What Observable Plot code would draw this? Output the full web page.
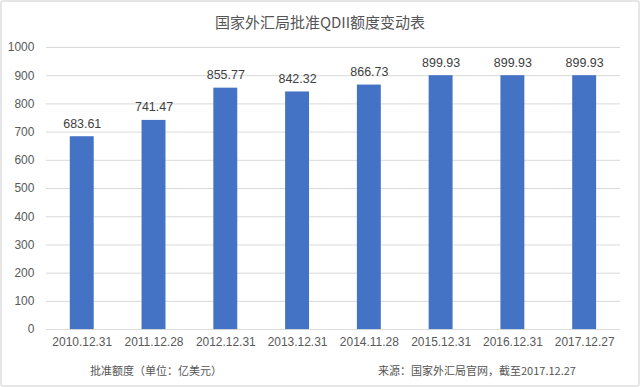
<!DOCTYPE html>
<html><head><meta charset="utf-8">
<script src="https://cdn.jsdelivr.net/npm/d3@7"></script>
<script src="https://cdn.jsdelivr.net/npm/@observablehq/plot@0.6"></script>
<style>
body{margin:0;background:#fff;}
#wrap{position:relative;width:640px;height:387px;box-sizing:border-box;border:2px solid #e6e6e6;border-radius:3px;overflow:hidden;font-family:"Liberation Sans","Noto Sans CJK SC",sans-serif;}
#title{position:absolute;top:0;left:0;width:100%;height:38px;line-height:40px;text-align:center;font-size:15px;color:#555;font-family:"Noto Sans CJK SC","Liberation Sans",sans-serif;}
#chart{position:absolute;top:36px;left:-2px;}
.foot{position:absolute;top:356px;font-size:11px;color:#555;line-height:24px;font-family:"Noto Sans CJK SC","Liberation Sans",sans-serif;}
</style></head>
<body>
<div id="wrap">
<div id="title">国家外汇局批准QDII额度变动表</div>
<div id="chart"></div>
<div class="foot" style="left:88px">批准额度（单位：亿美元）</div>
<div class="foot" style="left:376px">来源：国家外汇局官网，截至2017.12.27</div>
</div>
<script>
const dates = ["2010.12.31","2011.12.28","2012.12.31","2013.12.31","2014.11.28","2015.12.31","2016.12.31","2017.12.27"];
const quotas = [683.61, 741.47, 855.77, 842.32, 866.73, 899.93, 899.93, 899.93];
const yTicks = [0,100,200,300,400,500,600,700,800,900,1000];

const data = dates.map((d,i)=>({date:d, value:quotas[i]}));

const chart = Plot.plot({
  width: 640,
  height: 318,
  marginTop: 9,
  marginBottom: 26,
  marginLeft: 46,
  marginRight: 18,
  style: {fontFamily: '"Liberation Sans","Noto Sans CJK SC",sans-serif', fontSize: "12px", color: "#595959", background: "transparent"},
  x: {domain: dates, label: null, paddingInner: 0.67, paddingOuter: 0.335, tickSize: 0, tickPadding: 8},
  y: {domain: [0, 1000], ticks: yTicks, tickFormat: d => String(d), label: null, tickSize: 0, tickPadding: 12},
  marks: [
    Plot.ruleY(yTicks, {stroke: "#d9d9d9", strokeWidth: 1}),
    Plot.barY(data, {x: "date", y: "value", fill: "#4472c4"}),
    Plot.text(data, {x: "date", y: "value", text: d => d.value.toFixed(2), dy: -13, fill: "#404040", fontSize: 12.5})
  ]
});
document.getElementById("chart").appendChild(chart);
</script>
</body></html>
